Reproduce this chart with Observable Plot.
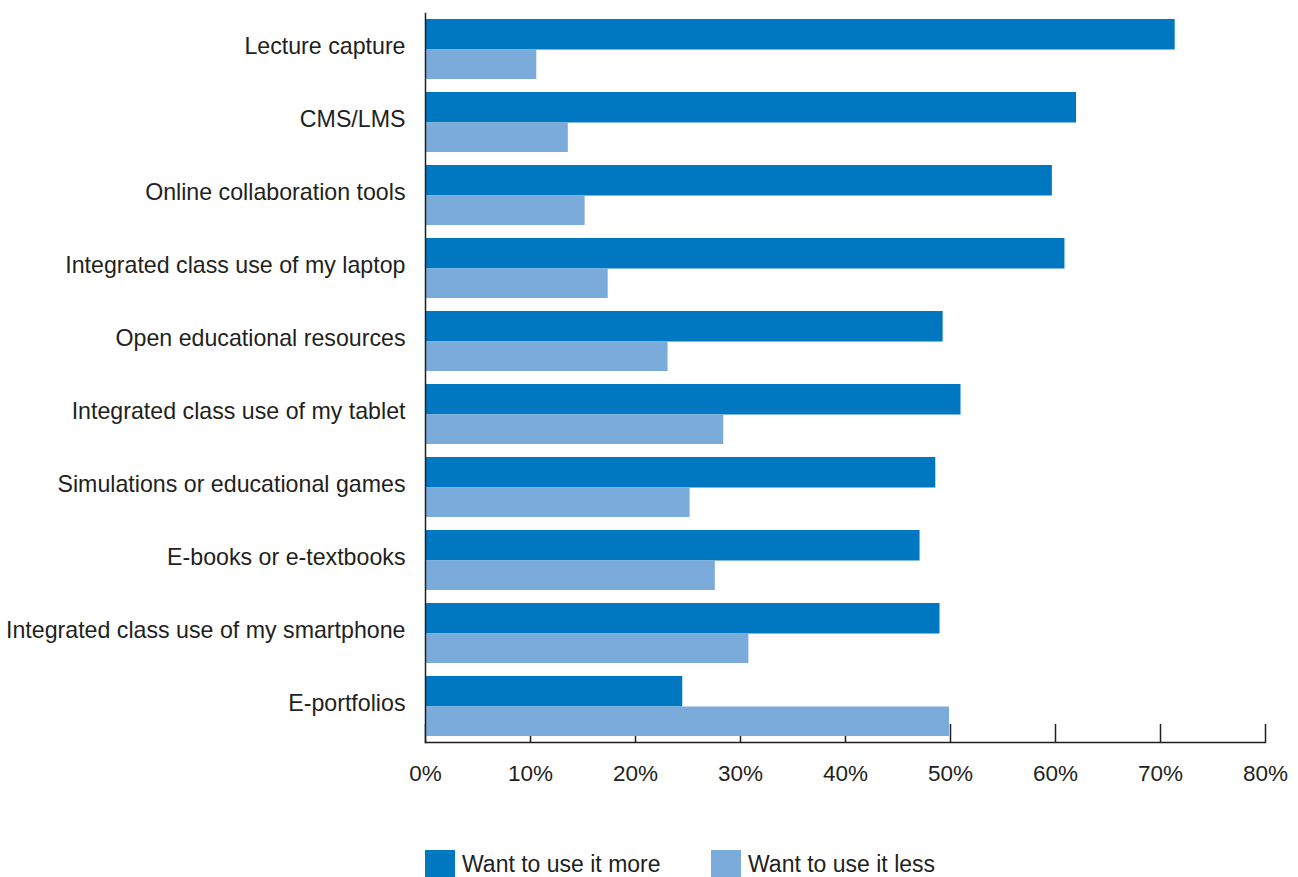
<!DOCTYPE html>
<html>
<head>
<meta charset="utf-8">
<script src="https://cdn.jsdelivr.net/npm/d3@7"></script>
<script src="https://cdn.jsdelivr.net/npm/@observablehq/plot@0.6"></script>
<style>
  body { margin: 0; background: #fff; font-family: "Liberation Sans", Arial, sans-serif; }
  #legend { position: relative; height: 27px; }
  .sw { position: absolute; top: 0; width: 30px; height: 30px; }
  .lt { position: absolute; top: 0; font-size: 23px; line-height: 28px; color: #231f20; }
</style>
</head>
<body>
<div id="chart"></div>
<div id="legend"></div>
<script>
const categories = [
  "Lecture capture",
  "CMS/LMS",
  "Online collaboration tools",
  "Integrated class use of my laptop",
  "Open educational resources",
  "Integrated class use of my tablet",
  "Simulations or educational games",
  "E-books or e-textbooks",
  "Integrated class use of my smartphone",
  "E-portfolios"
];
const wantMore = [71.4, 62.0, 59.7, 60.9, 49.3, 51.0, 48.6, 47.1, 49.0, 24.5];
const wantLess = [10.6, 13.6, 15.2, 17.4, 23.1, 28.4, 25.2, 27.6, 30.8, 49.9];
const seriesNames = ["Want to use it more", "Want to use it less"];
const seriesColors = ["#0078c1", "#7aabdb"];
const xTicks = [0, 10, 20, 30, 40, 50, 60, 70, 80];

const moreData = categories.map((c, i) => ({category: c, value: wantMore[i]}));
const lessData = categories.map((c, i) => ({category: c, value: wantLess[i]}));

const W = 1298, H = 850, mTop = 13, mBottom = 108, mLeft = 425, mRight = 33;
const plotH = H - mTop - mBottom;

const chart = Plot.plot({
  width: W,
  height: H,
  marginTop: mTop,
  marginBottom: mBottom,
  marginLeft: mLeft,
  marginRight: mRight,
  style: {fontFamily: '"Liberation Sans", Arial, sans-serif', fontSize: "22.5px", color: "#231f20", background: "#fff"},
  x: {domain: [0, 80], ticks: xTicks, tickFormat: d => d + "%"},
  y: {domain: categories, paddingInner: 0.178, paddingOuter: 0.08},
  marks: [
    Plot.ruleX(xTicks, {x: d => d, insetTop: plotH - 18, stroke: "#231f20", strokeWidth: 1.5}),
    Plot.barX(moreData, {x: "value", y: "category", fill: seriesColors[0], insetBottom: 29.5}),
    Plot.barX(lessData, {x: "value", y: "category", fill: seriesColors[1], insetTop: 30.5}),
    Plot.frame({anchor: "left", stroke: "#231f20", strokeWidth: 1.5}),
    Plot.frame({anchor: "bottom", stroke: "#231f20", strokeWidth: 1.5}),
    Plot.axisX({ticks: xTicks, tickFormat: d => d + "%", tickSize: 0, tickPadding: 23, label: null, fill: "#231f20"}),
    Plot.axisY({tickSize: 0, tickPadding: 20, label: null, fill: "#231f20", dy: -3, fontSize: 23.2})
  ]
});
document.getElementById("chart").appendChild(chart);

const legend = document.getElementById("legend");
const legendX = [[425, 462], [711, 748]];
seriesNames.forEach((name, i) => {
  const sw = document.createElement("div");
  sw.className = "sw";
  sw.style.left = legendX[i][0] + "px";
  sw.style.background = seriesColors[i];
  legend.appendChild(sw);
  const t = document.createElement("div");
  t.className = "lt";
  t.style.left = legendX[i][1] + "px";
  t.textContent = name;
  legend.appendChild(t);
});
</script>
</body>
</html>
